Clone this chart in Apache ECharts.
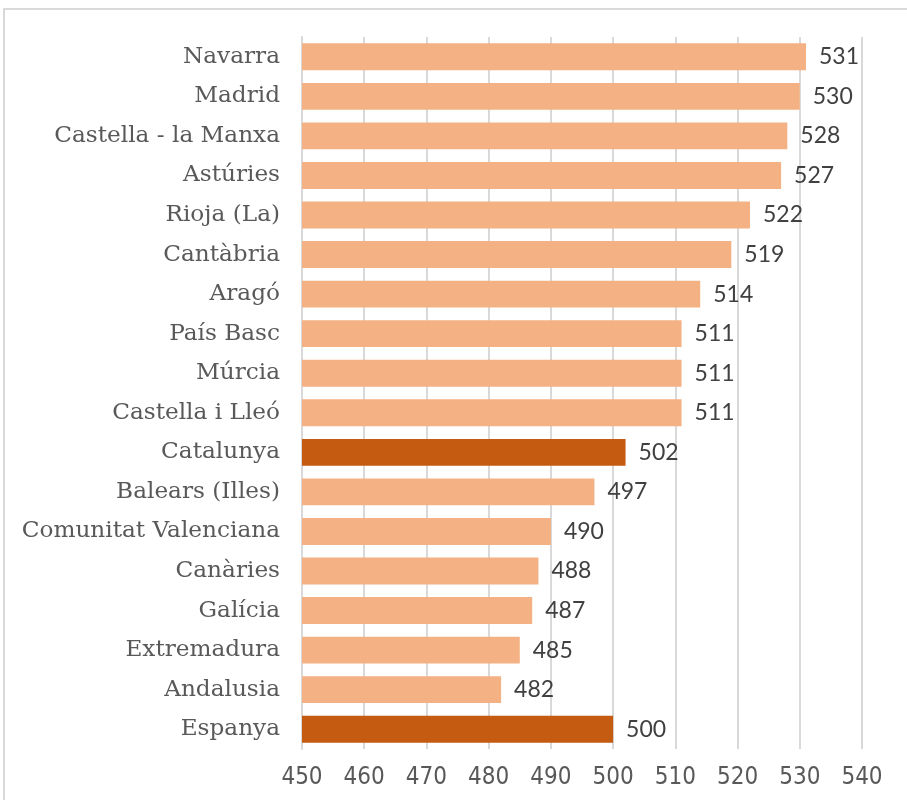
<!DOCTYPE html>
<html><head><meta charset="utf-8">
<script src="https://cdn.jsdelivr.net/npm/echarts@6/dist/echarts.min.js"></script>
<style>html,body{margin:0;padding:0;background:#fff}#c{width:907px;height:800px}</style>
</head><body><div id="c"></div>
<script>
const categories = ["Navarra","Madrid","Castella - la Manxa","Astúries","Rioja (La)","Cantàbria","Aragó","País Basc","Múrcia","Castella i Lleó","Catalunya","Balears (Illes)","Comunitat Valenciana","Canàries","Galícia","Extremadura","Andalusia","Espanya"];
const values = [531,530,528,527,522,519,514,511,511,511,502,497,490,488,487,485,482,500];
const highlighted = ["Catalunya","Espanya"];
const xTicks = {min:450,max:540,interval:10};

const chart = echarts.init(document.getElementById('c'));
chart.setOption({
  animation:false,
  graphic:[{type:'rect',shape:{x:4,y:9,width:920,height:820},style:{fill:'none',stroke:'#d9d9d9',lineWidth:2},silent:true}],
  grid:{left:302,right:45,top:37,bottom:51,containLabel:false},
  xAxis:{type:'value',min:xTicks.min,max:xTicks.max,interval:xTicks.interval,
    axisLine:{show:false},axisTick:{show:false},
    splitLine:{show:true,lineStyle:{color:'#d9d9d9',width:2}},
    axisLabel:{color:'#595959',fontSize:24,fontFamily:'"Liberation Sans Narrow","DejaVu Sans Condensed",sans-serif',margin:17}},
  yAxis:{type:'category',data:categories,inverse:true,
    axisLine:{show:true,lineStyle:{color:'#d9d9d9',width:2}},axisTick:{show:false},
    axisLabel:{color:'#595959',fontSize:23.2,fontFamily:'"DejaVu Serif",serif',margin:22}},
  series:[{type:'bar',barCategoryGap:'32%',
    data:values.map((v,i)=>({value:v,itemStyle:{color:highlighted.includes(categories[i])?'#C55A11':'#F4B183'}})),
    label:{show:true,position:'right',distance:13,color:'#404040',fontSize:23,fontFamily:'Lato,sans-serif'}}]
});
</script></body></html>
